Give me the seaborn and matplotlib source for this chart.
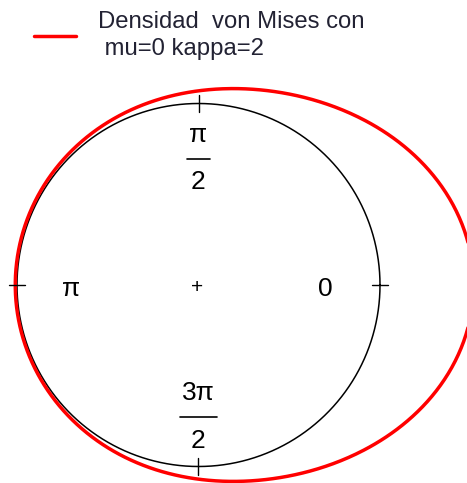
import numpy as np
import pandas as pd
import matplotlib
matplotlib.use("Agg")
import matplotlib.pyplot as plt
import seaborn as sns

# von Mises parameters
mu = 0.0
kappa = 2.0

# angle labels around the reference circle
label_angles = [0.0, np.pi / 2, np.pi, 3 * np.pi / 2]
label_numer = ["0", "π", "π", "3π"]
label_denom = [None, "2", None, "2"]

legend_text = "Densidad  von Mises con\n mu=0 kappa=2"

sns.set_style("white")
plt.rcParams["font.family"] = ["Liberation Sans", "DejaVu Sans"]
plt.rcParams["text.color"] = "black"

# von Mises density, plotted as r = 1 + f(theta) around the unit circle
theta = np.linspace(0, 2 * np.pi, 721)
dens = np.exp(kappa * np.cos(theta - mu)) / (2 * np.pi * np.i0(kappa))
r = 1 + dens
curve = pd.DataFrame({"x": r * np.cos(theta), "y": r * np.sin(theta), "t": theta})
circle = pd.DataFrame({"x": np.cos(theta), "y": np.sin(theta), "t": theta})

W, H, DPI = 467, 483, 100
fig = plt.figure(figsize=(W / DPI, H / DPI), dpi=DPI)
ax = fig.add_axes([0, 0, 1, 1])

# pixel layout: circle centre and radius
cx, cy, rad = 198.5, 285.0, 181.5
ax.set_xlim(-cx / rad, (W - cx) / rad)
ax.set_ylim(-(H - cy) / rad, cy / rad)
ax.set_aspect("auto")
ax.axis("off")

sns.lineplot(data=circle, x="x", y="y", sort=False, estimator=None,
             color="black", linewidth=1.1, ax=ax)
sns.lineplot(data=curve, x="x", y="y", sort=False, estimator=None,
             color="#ff0000", linewidth=2.5, ax=ax,
             label=legend_text)

# radial ticks where the axes cross the circle, and the centre mark
tick = 0.045
for a in label_angles:
    ca, sa = np.cos(a), np.sin(a)
    ax.plot([(1 - tick) * ca, (1 + tick) * ca], [(1 - tick) * sa, (1 + tick) * sa],
            color="black", linewidth=1.0)
ax.text(-0.01, -0.015, "+", ha="center", va="center", fontsize=15, color="black")

# angle labels, fractions stacked with a bar
lab_r = 0.70
fs = 19
for a, num, den in zip(label_angles, label_numer, label_denom):
    x, y = lab_r * np.cos(a), lab_r * np.sin(a)
    if den is None:
        ax.text(x, y - 0.02, num, ha="center", va="center", fontsize=fs, color="black")
    else:
        yb = 0.695 if a < np.pi else -0.727
        half = 0.062 if len(num) == 1 else 0.1
        ax.plot([x - half, x + half], [yb, yb], color="black", linewidth=1.2)
        ax.text(x, yb + 0.13, num, ha="center", va="center", fontsize=fs, color="black")
        ax.text(x, yb - 0.13, den, ha="center", va="center", fontsize=fs, color="black")

leg = ax.legend(loc="upper left", bbox_to_anchor=(34 / W, 1 - 11 / H),
                bbox_transform=fig.transFigure, frameon=False, fontsize=17.2,
                handlelength=1.75, handletextpad=0.95, borderpad=0, borderaxespad=0)
for line in leg.get_lines():
    line.set_linewidth(2.5)
for t in leg.get_texts():
    t.set_linespacing(1.3)
    t.set_color("#222233")

fig.savefig("out.png", dpi=DPI)
